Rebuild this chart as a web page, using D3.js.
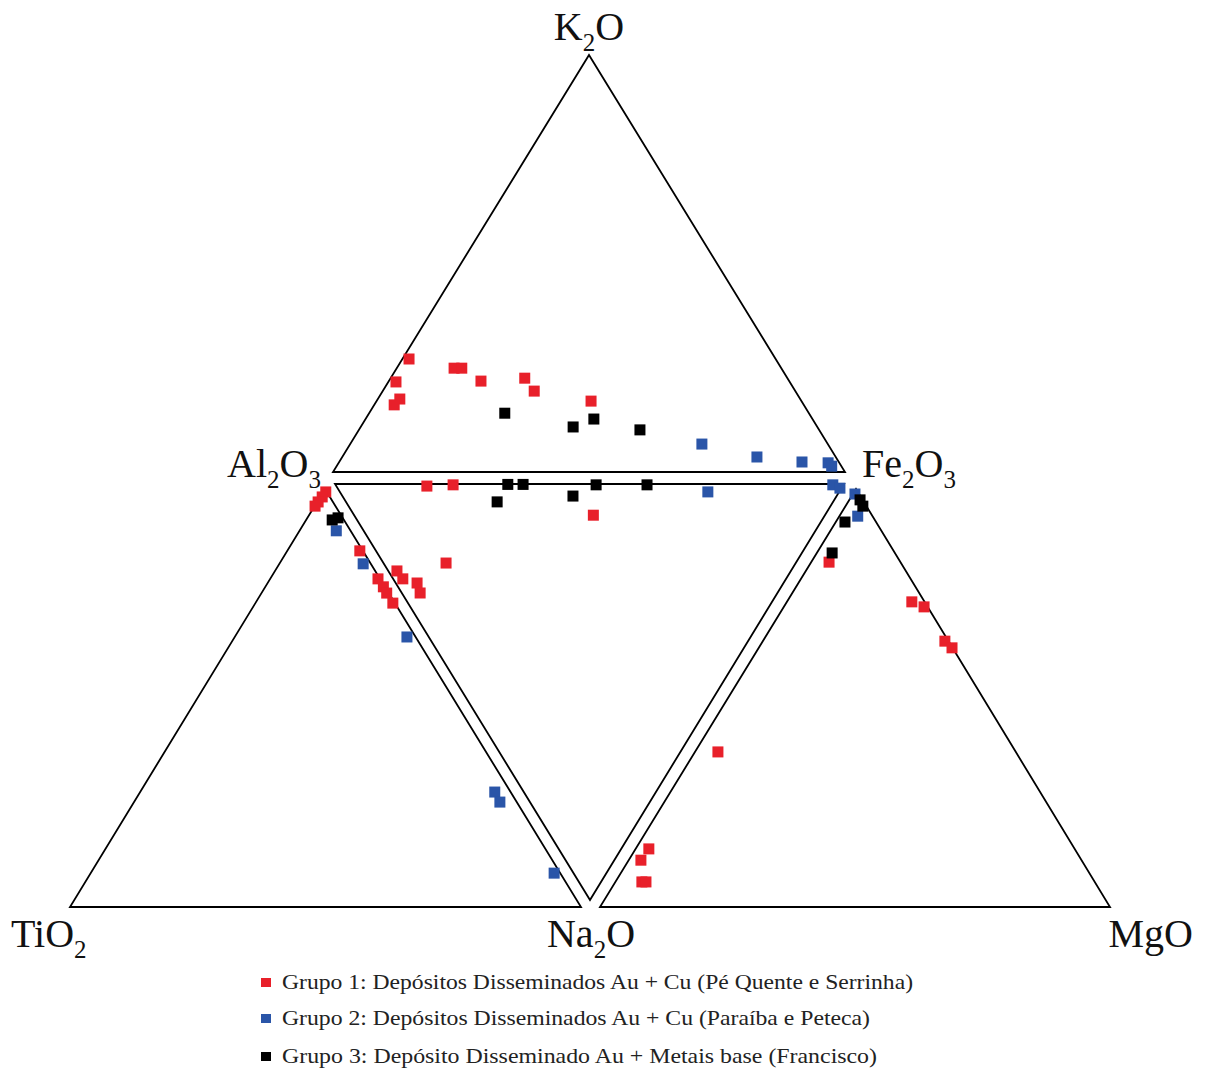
<!DOCTYPE html>
<html>
<head>
<meta charset="utf-8">
<script src="https://cdn.jsdelivr.net/npm/d3@7"></script>
<style>
  body { margin: 0; background: #fff; }
  svg { display: block; }
  text { font-family: "Liberation Serif", "DejaVu Serif", serif; fill: #111; }
</style>
</head>
<body>
<svg width="1210" height="1075"></svg>
<script>
var svg = d3.select('svg');

// groups (legend order)
var groupNames = [
  'Grupo 1: Depósitos Disseminados Au + Cu (Pé Quente e Serrinha)',
  'Grupo 2: Depósitos Disseminados Au + Cu (Paraíba e Peteca)',
  'Grupo 3: Depósito Disseminado Au + Metais base (Francisco)'
];
var groupColors = ['#e8202a', '#2a55a8', '#000000'];

// top triangle: K2O - Al2O3 - Fe2O3 (wt% normalised)
var topData = [
  {g: 1, K2O: 27.1, Al2O3: 71.6, Fe2O3: 1.3},
  {g: 1, K2O: 21.6, Al2O3: 76.9, Fe2O3: 1.5},
  {g: 1, K2O: 17.5, Al2O3: 78.2, Fe2O3: 4.3},
  {g: 1, K2O: 16.1, Al2O3: 80.0, Fe2O3: 3.9},
  {g: 1, K2O: 24.9, Al2O3: 63.9, Fe2O3: 11.2},
  {g: 1, K2O: 24.9, Al2O3: 62.4, Fe2O3: 12.7},
  {g: 1, K2O: 21.8, Al2O3: 60.2, Fe2O3: 18.0},
  {g: 1, K2O: 22.5, Al2O3: 51.3, Fe2O3: 26.2},
  {g: 1, K2O: 19.4, Al2O3: 51.0, Fe2O3: 29.6},
  {g: 1, K2O: 17.0, Al2O3: 41.1, Fe2O3: 41.9},
  {g: 2, K2O: 6.7, Al2O3: 24.6, Fe2O3: 68.7},
  {g: 2, K2O: 3.6, Al2O3: 15.4, Fe2O3: 81.0},
  {g: 2, K2O: 2.4, Al2O3: 7.2, Fe2O3: 90.4},
  {g: 2, K2O: 2.2, Al2O3: 2.2, Fe2O3: 95.6},
  {g: 2, K2O: 1.4, Al2O3: 1.9, Fe2O3: 96.7},
  {g: 3, K2O: 14.1, Al2O3: 59.4, Fe2O3: 26.5},
  {g: 3, K2O: 10.8, Al2O3: 47.7, Fe2O3: 41.5},
  {g: 3, K2O: 12.7, Al2O3: 42.7, Fe2O3: 44.6},
  {g: 3, K2O: 10.1, Al2O3: 35.0, Fe2O3: 54.9}
];

// middle (inverted) triangle: Al2O3 - Fe2O3 - Na2O
var midData = [
  {g: 1, Na2O: 0.5, Al2O3: 81.7, Fe2O3: 17.8},
  {g: 1, Na2O: 0.2, Al2O3: 76.7, Fe2O3: 23.1},
  {g: 1, Na2O: 7.5, Al2O3: 45.5, Fe2O3: 47.0},
  {g: 1, Na2O: 19.0, Al2O3: 68.7, Fe2O3: 12.3},
  {g: 1, Na2O: 20.9, Al2O3: 77.4, Fe2O3: 1.7},
  {g: 1, Na2O: 22.8, Al2O3: 75.3, Fe2O3: 1.9},
  {g: 1, Na2O: 23.8, Al2O3: 72.0, Fe2O3: 4.2},
  {g: 1, Na2O: 26.2, Al2O3: 70.2, Fe2O3: 3.6},
  {g: 2, Na2O: 1.9, Al2O3: 25.8, Fe2O3: 72.3},
  {g: 2, Na2O: 0.2, Al2O3: 2.1, Fe2O3: 97.7},
  {g: 2, Na2O: 1.0, Al2O3: 0.3, Fe2O3: 98.7},
  {g: 3, Na2O: 0.1, Al2O3: 66.0, Fe2O3: 33.9},
  {g: 3, Na2O: 0.1, Al2O3: 63.0, Fe2O3: 36.9},
  {g: 3, Na2O: 4.3, Al2O3: 66.0, Fe2O3: 29.7},
  {g: 3, Na2O: 2.9, Al2O3: 51.8, Fe2O3: 45.3},
  {g: 3, Na2O: 0.2, Al2O3: 48.6, Fe2O3: 51.2},
  {g: 3, Na2O: 0.2, Al2O3: 38.6, Fe2O3: 61.2}
];

// left triangle: Al2O3 - TiO2 - Na2O
var leftData = [
  {g: 1, Al2O3: 99.3, TiO2: 0.2, Na2O: 0.5},
  {g: 1, Al2O3: 98.1, TiO2: 1.5, Na2O: 0.4},
  {g: 1, Al2O3: 96.9, TiO2: 2.9, Na2O: 0.2},
  {g: 1, Al2O3: 95.9, TiO2: 4.0, Na2O: 0.1},
  {g: 1, Al2O3: 85.2, TiO2: 0.6, Na2O: 14.2},
  {g: 1, Al2O3: 78.5, TiO2: 0.4, Na2O: 21.1},
  {g: 1, Al2O3: 76.6, TiO2: 0.3, Na2O: 23.1},
  {g: 1, Al2O3: 75.1, TiO2: 0.4, Na2O: 24.5},
  {g: 1, Al2O3: 72.7, TiO2: 0.4, Na2O: 26.9},
  {g: 2, Al2O3: 90.0, TiO2: 2.8, Na2O: 7.2},
  {g: 2, Al2O3: 82.1, TiO2: 1.5, Na2O: 16.4},
  {g: 2, Al2O3: 64.6, TiO2: 1.7, Na2O: 33.7},
  {g: 2, Al2O3: 27.5, TiO2: 3.1, Na2O: 69.4},
  {g: 2, Al2O3: 25.1, TiO2: 3.3, Na2O: 71.6},
  {g: 2, Al2O3: 8.1, TiO2: 1.2, Na2O: 90.7},
  {g: 3, Al2O3: 92.6, TiO2: 2.3, Na2O: 5.1},
  {g: 3, Al2O3: 93.1, TiO2: 0.9, Na2O: 6.0}
];

// right triangle: Fe2O3 - Na2O - MgO
var rightData = [
  {g: 1, Fe2O3: 82.5, Na2O: 14.0, MgO: 3.5},
  {g: 1, Fe2O3: 73.0, Na2O: 2.5, MgO: 24.5},
  {g: 1, Fe2O3: 71.8, Na2O: 0.7, MgO: 27.5},
  {g: 1, Fe2O3: 63.6, Na2O: 0.7, MgO: 35.7},
  {g: 1, Fe2O3: 62.0, Na2O: 0.1, MgO: 37.9},
  {g: 1, Fe2O3: 37.1, Na2O: 58.4, MgO: 4.5},
  {g: 1, Fe2O3: 13.9, Na2O: 83.5, MgO: 2.6},
  {g: 1, Fe2O3: 11.2, Na2O: 86.4, MgO: 2.4},
  {g: 1, Fe2O3: 6.0, Na2O: 88.8, MgO: 5.2},
  {g: 1, Fe2O3: 6.0, Na2O: 88.0, MgO: 6.0},
  {g: 2, Fe2O3: 98.8, Na2O: 0.8, MgO: 0.4},
  {g: 2, Fe2O3: 93.5, Na2O: 2.9, MgO: 3.6},
  {g: 3, Fe2O3: 97.4, Na2O: 0.5, MgO: 2.1},
  {g: 3, Fe2O3: 95.9, Na2O: 0.7, MgO: 3.4},
  {g: 3, Fe2O3: 92.1, Na2O: 6.1, MgO: 1.8},
  {g: 3, Fe2O3: 84.7, Na2O: 12.3, MgO: 3.0}
];

/* ---
LAYOUT (pixel frame of each sub-diagram)
--- */
// apex = component at the lone vertex, left/right = components at the two base vertices
var triangles = [
  {apex: 'K2O',  left: 'Al2O3', right: 'Fe2O3', apexX: 589, apexY: 55,  baseY: 472, baseL: 333, baseR: 845, data: topData},
  {apex: 'Al2O3', left: 'TiO2', right: 'Na2O',  apexX: 325, apexY: 489, baseY: 907, baseL: 70,  baseR: 581, data: leftData},
  {apex: 'Na2O', left: 'Al2O3', right: 'Fe2O3', apexX: 590, apexY: 900, baseY: 484, baseL: 335, baseR: 844, data: midData},
  {apex: 'Fe2O3', left: 'Na2O', right: 'MgO',   apexX: 856, apexY: 489, baseY: 907, baseL: 600, baseR: 1110, data: rightData}
];

function makeProjection(t) {
  var yScale = d3.scaleLinear().domain([0, 100]).range([t.baseY, t.apexY]);
  var leftEdge = d3.scaleLinear().domain([0, 100]).range([t.baseL, t.apexX]);
  var rightEdge = d3.scaleLinear().domain([0, 100]).range([t.baseR, t.apexX]);
  return function(d) {
    var sum = d[t.apex] + d[t.left] + d[t.right];
    var a = d[t.apex] / sum * 100, r = d[t.right] / sum * 100;
    if (a >= 100) return [t.apexX, t.apexY];
    var row = d3.scaleLinear().domain([0, 100 - a]).range([leftEdge(a), rightEdge(a)]);
    return [row(r), yScale(a)];
  };
}

var size = 11;
var plot = svg.append('g');

triangles.forEach(function(t) {
  var proj = makeProjection(t);
  var corners = [t.apex, t.left, t.right].map(function(c) {
    var d = {};
    d[t.apex] = 0; d[t.left] = 0; d[t.right] = 0;
    d[c] = 100;
    return proj(d);
  });

  plot.append('path')
    .attr('d', 'M' + corners.join('L') + 'Z')
    .attr('fill', 'none')
    .attr('stroke', '#000')
    .attr('stroke-width', 1.8)
    .attr('stroke-linejoin', 'miter');

  t.proj = proj;
});

triangles.forEach(function(t) {
  plot.append('g')
    .selectAll('rect')
    .data(t.data)
    .enter()
    .append('rect')
    .attr('x', function(d) { return t.proj(d)[0] - size / 2; })
    .attr('y', function(d) { return t.proj(d)[1] - size / 2; })
    .attr('width', size)
    .attr('height', size)
    .attr('fill', function(d) { return groupColors[d.g - 1]; });
});

/* ---
VERTEX LABELS
--- */
var labels = [
  {parts: [['K', 0], ['2', 1], ['O', 0]], x: 589, y: 40, anchor: 'middle'},
  {parts: [['Al', 0], ['2', 1], ['O', 0], ['3', 1]], x: 321, y: 477, anchor: 'end'},
  {parts: [['Fe', 0], ['2', 1], ['O', 0], ['3', 1]], x: 862, y: 477, anchor: 'start'},
  {parts: [['TiO', 0], ['2', 1]], x: 11, y: 947, anchor: 'start'},
  {parts: [['Na', 0], ['2', 1], ['O', 0]], x: 591, y: 947, anchor: 'middle'},
  {parts: [['MgO', 0]], x: 1193, y: 947, anchor: 'end'}
];

labels.forEach(function(l) {
  var txt = svg.append('text')
    .attr('x', l.x)
    .attr('y', l.y)
    .attr('text-anchor', l.anchor)
    .style('font-size', '40px');
  var sub = false;
  l.parts.forEach(function(p) {
    var ts = txt.append('tspan').text(p[0]);
    if (p[1] && !sub) { ts.attr('dy', 11).style('font-size', '25px'); sub = true; }
    else if (!p[1] && sub) { ts.attr('dy', -11); sub = false; }
    else if (p[1]) ts.style('font-size', '25px');
  });
});

/* ---
LEGEND
--- */
var legend = svg.append('g').attr('transform', 'translate(261,0)');
var legendY = [989, 1025, 1063];
var legendWidths = [631, 588, 595];

groupNames.forEach(function(name, i) {
  legend.append('rect')
    .attr('x', 0)
    .attr('y', legendY[i] - 11)
    .attr('width', 10)
    .attr('height', 9)
    .attr('fill', groupColors[i]);
  legend.append('text')
    .attr('x', 21)
    .attr('y', legendY[i])
    .attr('textLength', legendWidths[i])
    .attr('lengthAdjust', 'spacingAndGlyphs')
    .style('font-size', '21.5px')
    .style('fill', '#222')
    .text(name);
});
</script>
</body>
</html>
